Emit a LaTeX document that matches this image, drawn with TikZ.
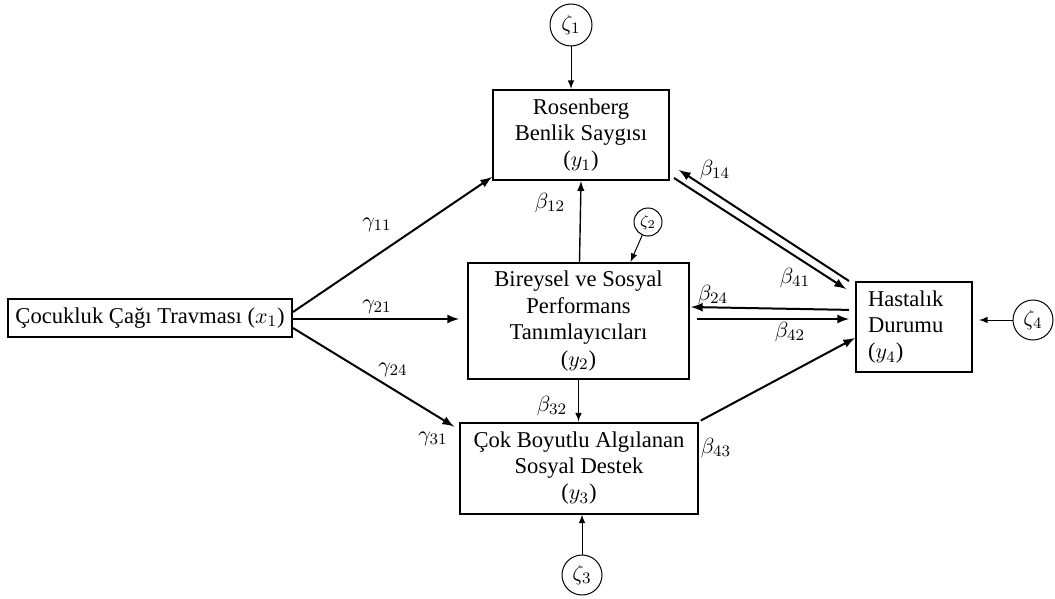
\documentclass[tikz,border=0pt]{standalone}
\usepackage{fontspec}
\setmainfont{Liberation Serif}

\tikzset{
  box/.style={draw, line width=1pt, align=center, inner sep=0pt, font=\fontsize{11.3}{13.2}\selectfont},
  err/.style={draw, circle, line width=0.5pt, inner sep=0pt, minimum size=20pt, font=\fontsize{11}{13}\selectfont},
  yol/.style={->, line width=1pt},
  ince/.style={->, line width=0.5pt},
  etiket/.style={font=\fontsize{11}{13}\selectfont, inner sep=1pt},
}

\begin{document}
\begin{tikzpicture}[x=0.5pt, y=-0.5pt, >=latex]
\useasboundingbox (0,0) rectangle (1055,599);
% kutular
\node[box, minimum width=142pt, minimum height=19pt] (x1) at (150,318) {Çocukluk Çağı Travması ($x_1$)};
\node[box, minimum width=88pt, minimum height=45pt] (y1) at (581,135) {Rosenberg\\Benlik Saygısı\\($y_1$)};
\node[box, minimum width=110.5pt, minimum height=58pt] (y2) at (578.5,321) {Bireysel ve Sosyal\\Performans\\Tanımlayıcıları\\($y_2$)};
\node[box, minimum width=119pt, minimum height=45.5pt] (y3) at (579,468) {Çok Boyutlu Algılanan\\Sosyal Destek\\($y_3$)};
\node[box, minimum width=58pt, minimum height=45pt, text width=46pt, inner xsep=6pt, align=left] (y4) at (914,327) {Hastalık\\Durumu\\($y_4$)};
% hatalar
\node[err, minimum size=21pt] (z1) at (571,25) {$\zeta_1$};
\node[err, minimum size=14pt, font=\fontsize{8}{10}\selectfont] (z2) at (648,222) {$\zeta_2$};
\node[err] (z3) at (582,575) {$\zeta_3$};
\node[err] (z4) at (1033,320) {$\zeta_4$};
\draw[ince] (z1) -- (z1 |- y1.north);
\draw[ince] (z2) -- ([xshift=26pt]y2.north);
\draw[ince] (z3) -- (z3 |- y3.south);
\draw[ince, shorten >=3pt] (z4) -- (z4 -| y4.east);
% gamma yollari
\draw[yol] ([yshift=3pt]x1.east) -- ([yshift=2pt]y1.south west);
\draw[yol, shorten >=4pt] ([yshift=-0.5pt]x1.east) -- ([yshift=1pt]y2.west);
\draw[yol] ([yshift=-5pt]x1.east) -- ([xshift=-2.5pt, yshift=-2.5pt]y3.north west);
% beta yollari
\draw[->, line width=0.7pt] ([xshift=0.5pt]y2.north) -- (y1.south);
\draw[ince] (y2.south) -- (y2.south |- y3.north);
\draw[yol] ([xshift=-3pt]y4.north west) -- ([xshift=4.5pt, yshift=5.5pt]y1.south east);
\draw[yol] ([xshift=2pt, yshift=1.5pt]y1.south east) -- ([xshift=-4.5pt, yshift=-4pt]y4.north west);
\draw[yol, shorten <=3pt, shorten >=0.5pt] ([yshift=8.5pt]y4.west) -- ([yshift=7pt]y2.east);
\draw[yol, shorten <=3.5pt, shorten >=3pt] ([yshift=1pt]y2.east) -- ([yshift=4pt]y4.west);
\draw[yol, shorten <=1pt] (y3.north east) -- ([yshift=-5.5pt]y4.west);
% etiketler
\node[etiket] (g11) at (377,225) {$\gamma_{11}$};
\node[etiket] (g21) at (377,307) {$\gamma_{21}$};
\node[etiket] (g24) at (393,370) {$\gamma_{24}$};
\node[etiket] (g31) at (433,439) {$\gamma_{31}$};
\node[etiket] (b12) at (550,203) {$\beta_{12}$};
\node[etiket] (b14) at (715,170) {$\beta_{14}$};
\node[etiket] (b41) at (795,278) {$\beta_{41}$};
\node[etiket] (b24) at (713,295) {$\beta_{24}$};
\node[etiket] (b42) at (790,332) {$\beta_{42}$};
\node[etiket] (b32) at (552,406) {$\beta_{32}$};
\node[etiket] (b43) at (716,448) {$\beta_{43}$};
\end{tikzpicture}
\end{document}
